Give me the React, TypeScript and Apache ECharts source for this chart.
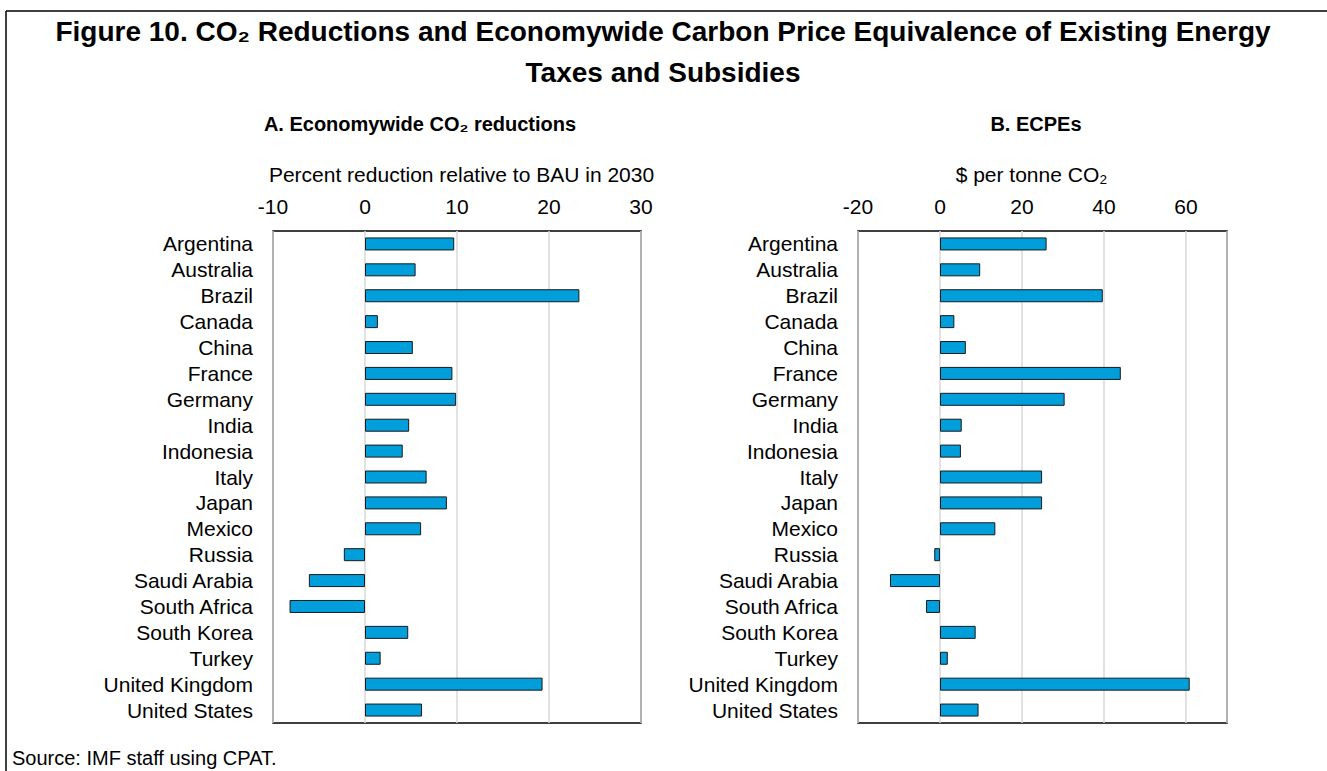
import React, { useEffect, useRef } from "react";
import * as echarts from "echarts";

const categories = [
  "Argentina", "Australia", "Brazil", "Canada", "China", "France", "Germany",
  "India", "Indonesia", "Italy", "Japan", "Mexico", "Russia", "Saudi Arabia",
  "South Africa", "South Korea", "Turkey", "United Kingdom", "United States",
];
const reductions = [9.7, 5.5, 23.3, 1.4, 5.2, 9.5, 9.9, 4.8, 4.1, 6.7, 8.9, 6.1, -2.3, -6.1, -8.2, 4.7, 1.7, 19.3, 6.2];
const ecpes = [26.0, 9.8, 39.7, 3.5, 6.3, 44.1, 30.4, 5.3, 5.1, 24.9, 24.9, 13.5, -1.4, -12.2, -3.4, 8.7, 1.9, 60.9, 9.4];

const titleLine1 = "Figure 10. CO₂ Reductions and Economywide Carbon Price Equivalence of Existing Energy";
const titleLine2 = "Taxes and Subsidies";
const subtitleA = "A. Economywide CO₂ reductions";
const subtitleB = "B. ECPEs";
const axisNameA = "Percent reduction relative to BAU in 2030";
const axisNameB = "$ per tonne CO₂";
const sourceText = "Source: IMF staff using CPAT.";

const FONT = "'Liberation Sans', Arial, sans-serif";

export default function App() {
  const ref = useRef<HTMLDivElement>(null);
  useEffect(() => {
    if (!ref.current) return;
    const chart = echarts.init(ref.current, undefined, { renderer: "svg" });
    const axisCommon = (min: number, max: number, interval: number, name: string, pad: number[], showMax: boolean) => ({
      type: "value" as const,
      position: "top" as const,
      min, max, interval,
      name,
      nameLocation: "middle" as const,
      nameGap: 46,
      nameTextStyle: { fontSize: 21, color: "#000", fontFamily: FONT, padding: pad },
      axisLine: { show: false },
      axisTick: { show: false },
      axisLabel: { fontSize: 21, color: "#000", fontFamily: FONT, margin: 14, showMaxLabel: showMax },
      splitLine: { show: true, lineStyle: { color: "#d9d9d9", width: 1.5 } },
    });
    const yCommon = (gridIndex: number) => ({
      type: "category" as const,
      gridIndex,
      data: categories,
      inverse: true,
      axisLine: { show: false },
      axisTick: { show: false },
      axisLabel: { fontSize: 21, color: "#000", fontFamily: FONT, margin: 20, interval: 0 },
    });
    const barStyle = { color: "#009EDB", borderColor: "#1a1a1a", borderWidth: 1 };
    chart.setOption({
      animation: false,
      backgroundColor: "#fff",
      grid: [
        { left: 273, top: 231, width: 368, height: 492, show: true, borderColor: "#000", borderWidth: 1.5, backgroundColor: "transparent" },
        { left: 858, top: 231, width: 369, height: 492, show: true, borderColor: "#000", borderWidth: 1.5, backgroundColor: "transparent" },
      ],
      xAxis: [
        { ...axisCommon(-10, 30, 10, axisNameA, [0, 0, 0, 9], true), gridIndex: 0 },
        { ...axisCommon(-20, 70, 20, axisNameB, [0, 22, 0, 0], false), gridIndex: 1 },
      ],
      yAxis: [yCommon(0), yCommon(1)],
      series: [
        { type: "bar", xAxisIndex: 0, yAxisIndex: 0, data: reductions, barWidth: 13, itemStyle: barStyle },
        { type: "bar", xAxisIndex: 1, yAxisIndex: 1, data: ecpes, barWidth: 13, itemStyle: barStyle },
      ],
      graphic: [
        { type: "line", shape: { x1: 6, y1: 11, x2: 1327, y2: 11 }, style: { stroke: "#000", lineWidth: 1.5 } },
        { type: "line", shape: { x1: 6, y1: 11, x2: 6, y2: 771 }, style: { stroke: "#000", lineWidth: 1.5 } },
        { type: "text", x: 663, y: 31, style: { text: titleLine1, textAlign: "center", textVerticalAlign: "middle", font: `bold 28px ${FONT}`, fill: "#000" } },
        { type: "text", x: 663, y: 72, style: { text: titleLine2, textAlign: "center", textVerticalAlign: "middle", font: `bold 28px ${FONT}`, fill: "#000" } },
        { type: "text", x: 420, y: 124, style: { text: subtitleA, textAlign: "center", textVerticalAlign: "middle", font: `bold 20px ${FONT}`, fill: "#000" } },
        { type: "text", x: 1036, y: 124, style: { text: subtitleB, textAlign: "center", textVerticalAlign: "middle", font: `bold 20px ${FONT}`, fill: "#000" } },
        { type: "text", x: 12, y: 758, style: { text: sourceText, textAlign: "left", textVerticalAlign: "middle", font: `20px ${FONT}`, fill: "#000" } },
      ],
    });
    return () => chart.dispose();
  }, []);
  return <div ref={ref} style={{ position: "absolute", left: 0, top: 0, width: 1327, height: 771 }} />;
}
